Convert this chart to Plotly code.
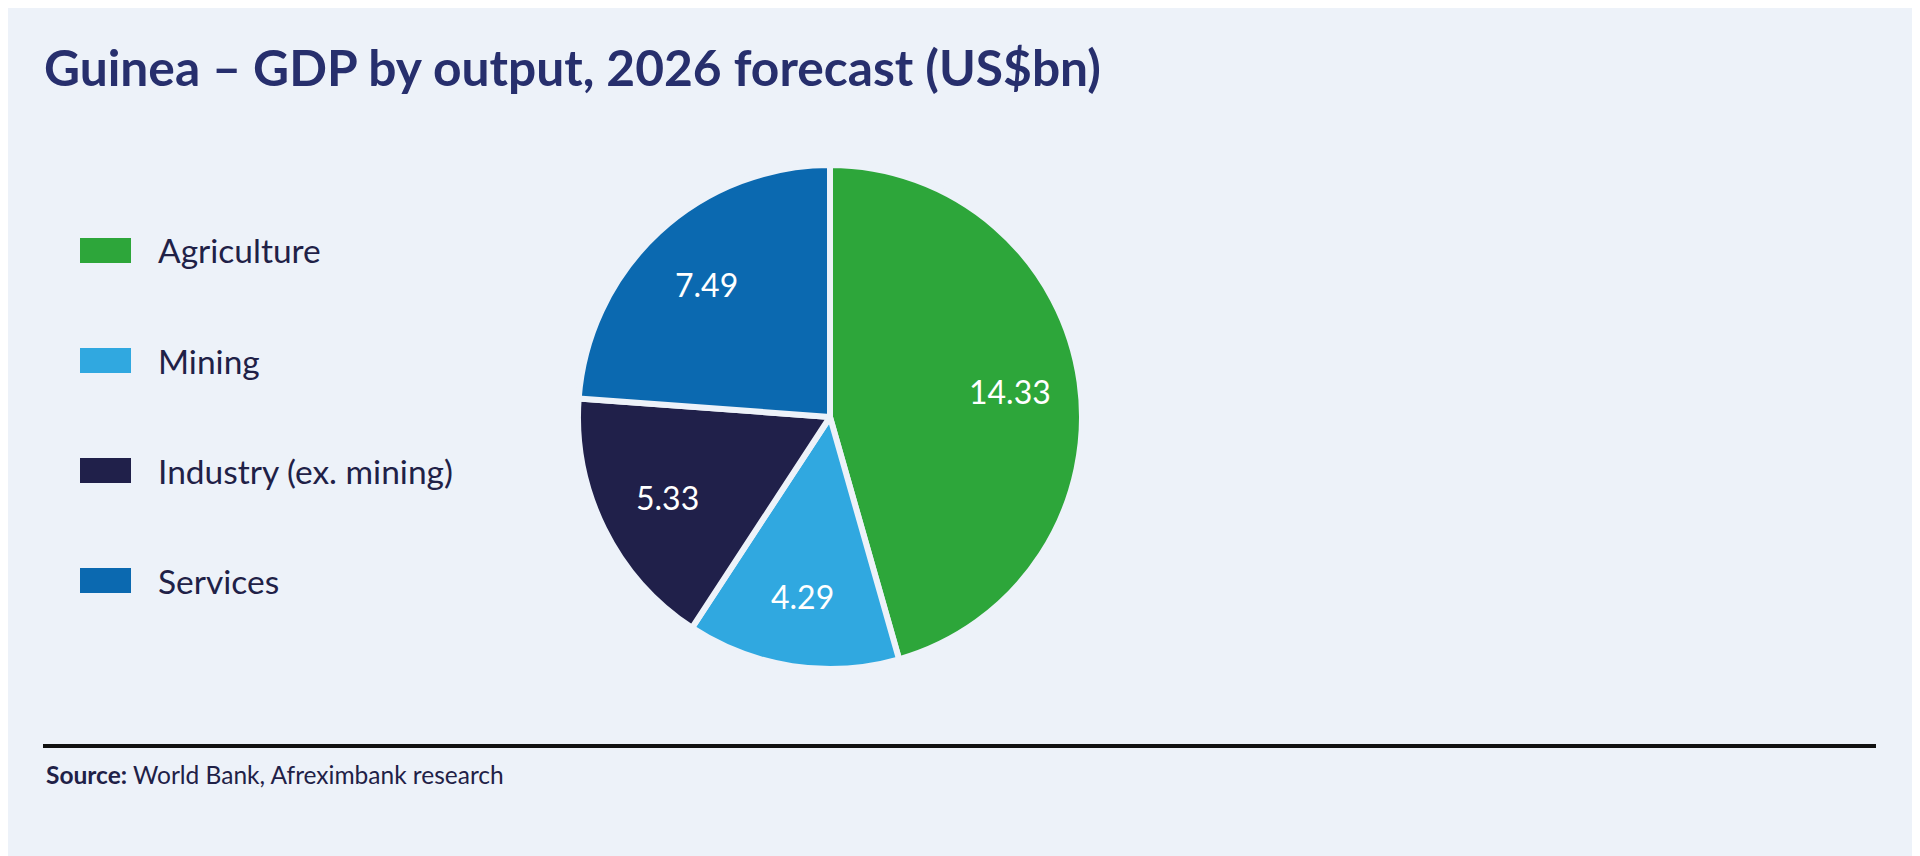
import math
import plotly.graph_objects as go

# data
sectors = ["Agriculture", "Mining", "Industry (ex. mining)", "Services"]
gdp_bn = [14.33, 4.29, 5.33, 7.49]
colours = ["#2DA63A", "#30A8E0", "#20204A", "#0B69B0"]

title = "Guinea – GDP by output, 2026 forecast (US$bn)"
source = "<b>Source:</b> World Bank, Afreximbank research"

bg = "#EDF2F9"
navy = "#272F6D"
ink = "#1F2147"
W, H = 1920, 856

# pie placement (px, measured from top-left of the figure)
cx, cy, rad = 822, 409, 252

fig = go.Figure()
fig.add_trace(go.Pie(
    labels=sectors,
    values=gdp_bn,
    sort=False,
    direction="clockwise",
    rotation=0,
    marker=dict(colors=colours, line=dict(color=bg, width=6)),
    textinfo="none",
    domain=dict(x=[(cx - rad) / W, (cx + rad) / W],
                y=[1 - (cy + rad) / H, 1 - (cy - rad) / H]),
    showlegend=False,
    hoverinfo="label+value",
))

# value labels, sat along each slice's bisector a bit outside mid-radius
total = sum(gdp_bn)
cum = 0
for v in gdp_bn:
    mid = (cum + v / 2) / total * 2 * math.pi
    cum += v
    x = cx + 0.72 * rad * math.sin(mid)
    y = cy - 0.72 * rad * math.cos(mid)
    fig.add_annotation(x=x / W, y=1 - y / H, xref="paper", yref="paper",
                       text=f"{v:.2f}", showarrow=False,
                       xanchor="center", yanchor="middle",
                       font=dict(family="Lato", size=32, color="white"))

# legend drawn by hand: wide colour blocks with big spacing
for i, (name, col) in enumerate(zip(sectors, colours)):
    yc = 1 - (242.5 + i * 110) / H
    fig.add_shape(type="rect", xref="paper", yref="paper",
                  x0=72 / W, x1=123 / W, y0=yc - 12.5 / H, y1=yc + 12.5 / H,
                  fillcolor=col, line=dict(width=0))
    fig.add_annotation(x=148 / W, y=yc, xref="paper", yref="paper",
                       text=name, showarrow=False, xanchor="left", yanchor="middle",
                       font=dict(family="Lato", size=33.5, color=ink))

# title
fig.add_annotation(x=34 / W, y=1 - 59 / H, xref="paper", yref="paper",
                   text="<b>" + title + "</b>", showarrow=False,
                   xanchor="left", yanchor="middle",
                   font=dict(family="Lato", size=49.7, color=navy))

# rule + source
fig.add_shape(type="line", xref="paper", yref="paper",
              x0=35 / W, x1=1868 / W, y0=1 - 738 / H, y1=1 - 738 / H,
              line=dict(color="#111111", width=4))
fig.add_annotation(x=36 / W, y=1 - 766 / H, xref="paper", yref="paper",
                   text=source, showarrow=False, xanchor="left", yanchor="middle",
                   font=dict(family="Lato", size=24.5, color=ink))

fig.update_layout(
    width=W, height=H,
    margin=dict(l=0, r=0, t=0, b=0),
    paper_bgcolor=bg, plot_bgcolor=bg,
)

fig.write_html("out.html")
